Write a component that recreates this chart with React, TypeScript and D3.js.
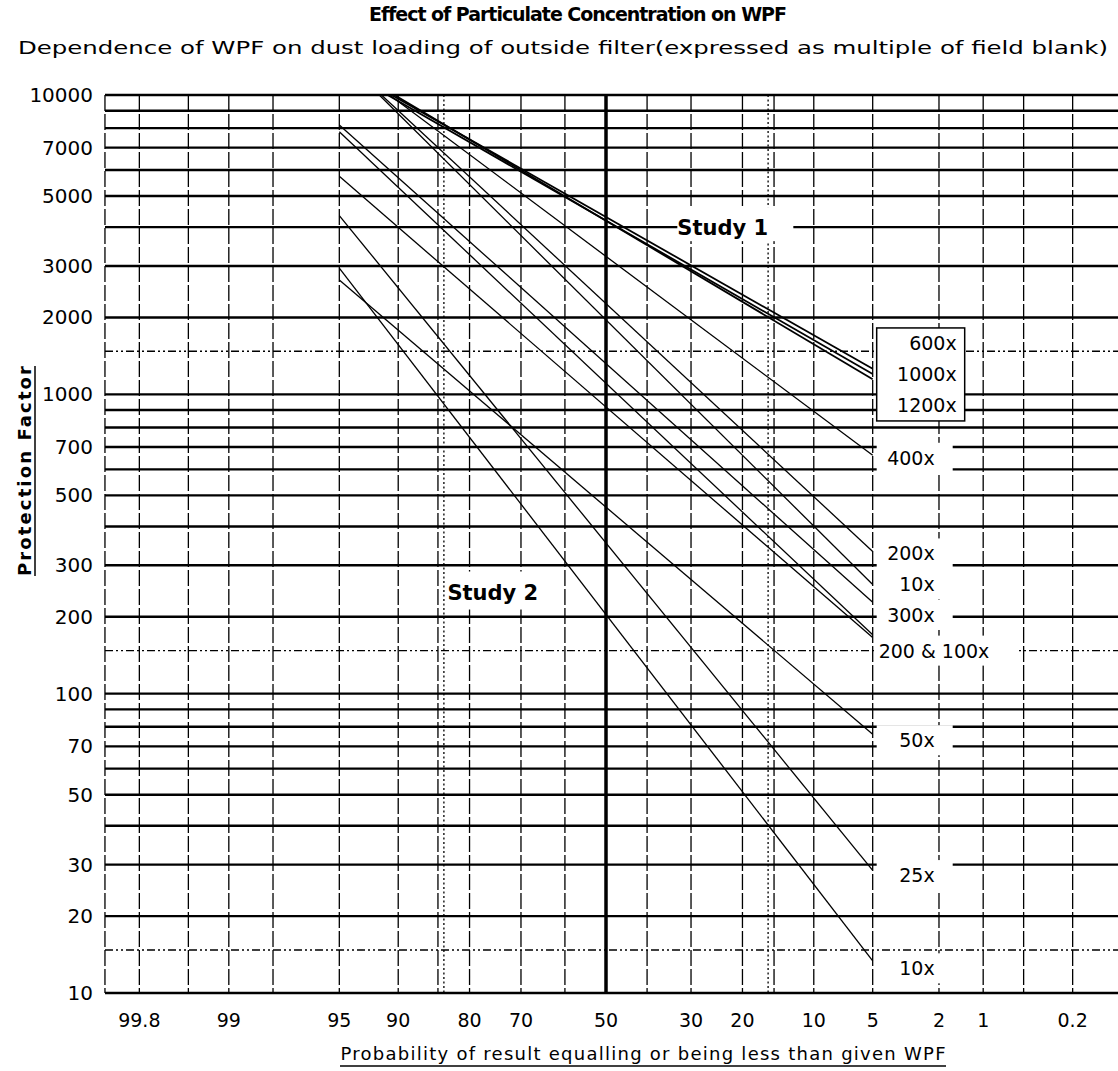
import React from "react";
import * as d3 from "d3";

const W = 1118;
const H = 1071;

const title = "Effect of Particulate Concentration on WPF";
const subtitle =
  "Dependence of WPF on dust loading of outside filter(expressed as multiple of field blank)";
const xTitle = "Probability of result equalling or being less than given WPF";
const yTitle = "Protection Factor";

// protection factor axis
const yLabels = [10, 20, 30, 50, 70, 100, 200, 300, 500, 700, 1000, 2000, 3000, 5000, 7000, 10000];
const yGridSolid = [
  10, 20, 30, 40, 50, 60, 70, 80, 90, 100, 200, 300, 400, 500, 600, 700, 800, 900, 1000, 2000,
  3000, 4000, 5000, 6000, 7000, 8000, 9000, 10000,
];
const yGridDash = [15, 150, 1500];

// probability axis (%)
const xLabels = [99.8, 99, 95, 90, 80, 70, 50, 30, 20, 10, 5, 2, 1, 0.2];
const xGridDash = [99.9, 99.8, 99.5, 99, 98, 95, 90, 85, 80, 70, 60, 40, 30, 20, 15, 10, 5, 2, 1, 0.5, 0.2];
const xGridSigma = [84.13, 15.87];
const xGridMedian = [50];

// each line: [probability %, protection factor] at both ends
const study1 = [
  { name: "600x", pts: [[90.7, 10000], [5, 1280]] },
  { name: "1000x", pts: [[91.1, 10000], [5, 1220]] },
  { name: "1200x", pts: [[90.4, 10000], [5, 1160]] },
];
const study2 = [
  { name: "400x", pts: [[90.9, 10000], [5, 661]] },
  { name: "200x", pts: [[91.7, 10000], [5, 333]] },
  { name: "10x", pts: [[91.9, 10000], [5, 259]] },
  { name: "300x", pts: [[95, 8170], [5, 225]] },
  { name: "200x", pts: [[95, 7800], [5, 172]] },
  { name: "100x", pts: [[95, 5740], [5, 168]] },
  { name: "50x", pts: [[95, 2695], [5, 76]] },
  { name: "25x", pts: [[95, 4350], [5, 28.7]] },
  { name: "10x", pts: [[95, 2950], [5, 13.6]] },
];

const boxLabels = ["600x", "1000x", "1200x"];
const endLabels = [
  { text: "400x", pf: 650 },
  { text: "200x", pf: 328 },
  { text: "10x", pf: 259 },
  { text: "300x", pf: 203 },
  { text: "200 & 100x", pf: 150 },
  { text: "50x", pf: 73 },
  { text: "25x", pf: 27.7 },
  { text: "10x", pf: 12.7 },
];

// inverse normal cdf (Acklam)
function probit(p: number) {
  const a = [-39.69683028665376, 220.9460984245205, -275.9285104469687, 138.357751867269, -30.66479806614716, 2.506628277459239];
  const b = [-54.47609879822406, 161.5858368580409, -155.6989798598866, 66.80131188771972, -13.28068155288572];
  const c = [-0.007784894002430293, -0.3223964580411365, -2.400758277161838, -2.549732539343734, 4.374664141464968, 2.938163982698783];
  const d = [0.007784695709041462, 0.3224671290700398, 2.445134137142996, 3.754408661907416];
  const pl = 0.02425;
  if (p < pl) {
    const q = Math.sqrt(-2 * Math.log(p));
    return (((((c[0] * q + c[1]) * q + c[2]) * q + c[3]) * q + c[4]) * q + c[5]) /
      ((((d[0] * q + d[1]) * q + d[2]) * q + d[3]) * q + 1);
  }
  if (p > 1 - pl) {
    const q = Math.sqrt(-2 * Math.log(1 - p));
    return -(((((c[0] * q + c[1]) * q + c[2]) * q + c[3]) * q + c[4]) * q + c[5]) /
      ((((d[0] * q + d[1]) * q + d[2]) * q + d[3]) * q + 1);
  }
  const q = p - 0.5;
  const r = q * q;
  return (((((a[0] * r + a[1]) * r + a[2]) * r + a[3]) * r + a[4]) * r + a[5]) * q /
    (((((b[0] * r + b[1]) * r + b[2]) * r + b[3]) * r + b[4]) * r + 1);
}

// the printed log paper squeezes the top of each decade a little:
// position inside a decade follows log(r + c) rather than log(r)
const C = 0.06;
function paper(v: number) {
  const e = Math.ceil(Math.log10(v) - 1e-9);
  const r = v / Math.pow(10, e);
  return e - Math.log((1 + C) / (r + C)) / Math.log((1 + C) / (0.1 + C));
}

const FONT = "'DejaVu Sans', sans-serif";

export default function App() {
  const top = 95;
  const bottom = 993;
  const left = 105;

  const xz = d3.scaleLinear().domain([3.09, -3.09]).range([left, 1107]);
  const x = (p: number) => xz(probit(p / 100));
  const yt = d3.scaleLinear().domain([paper(10), paper(10000)]).range([bottom, top]);
  const y = (v: number) => yt(paper(v));

  const line = d3
    .line<number[]>()
    .x((d) => x(d[0]))
    .y((d) => y(d[1]));

  const x5 = x(5);
  const s1End = y(study1[1].pts[1][1]);

  return (
    <svg
      width={W}
      height={H}
      style={{ position: "absolute", left: 0, top: 0, background: "#fff" }}
      fontFamily={FONT}
    >
      <rect width={W} height={H} fill="#fff" />

      {/* titles */}
      <text x={578} y={21} textAnchor="middle" fontSize={19} fontWeight="bold" textLength={418}>
        {title}
      </text>
      <text x={18} y={54} fontSize={18} textLength={1090} lengthAdjust="spacingAndGlyphs">
        {subtitle}
      </text>

      {/* horizontal grid */}
      <g stroke="#000">
        {yGridSolid.map((v) => (
          <line key={"hs" + v} x1={left} x2={W} y1={y(v)} y2={y(v)} strokeWidth={2.4} />
        ))}
        {yGridDash.map((v) => (
          <line
            key={"hd" + v}
            x1={left}
            x2={W}
            y1={y(v)}
            y2={y(v)}
            strokeWidth={1.4}
            strokeDasharray="8 3 2 3 2 3"
          />
        ))}
      </g>

      {/* vertical grid */}
      <g stroke="#000">
        {xGridDash.map((p) => (
          <line key={"vd" + p} x1={x(p)} x2={x(p)} y1={top} y2={bottom} strokeWidth={1.3} strokeDasharray="16 3" />
        ))}
        {xGridSigma.map((p) => (
          <line key={"vs" + p} x1={x(p)} x2={x(p)} y1={top} y2={bottom} strokeWidth={1.3} strokeDasharray="2 2.5" />
        ))}
        {xGridMedian.map((p) => (
          <line key={"vm" + p} x1={x(p)} x2={x(p)} y1={top} y2={bottom} strokeWidth={3.5} />
        ))}
      </g>

      {/* label backgrounds that break the grid */}
      <g fill="#fff">
        <rect x={x(33)} y={y(4000) - 20} width={116} height={34} />
        <rect x={x(83.6)} y={y(245) - 20} width={110} height={38} />
        {endLabels.map((l, i) => (
          <rect
            key={"lb" + i}
            x={x5 + 4}
            y={y(l.pf) - 15}
            width={l.text.length > 5 ? 140 : 76}
            height={30}
          />
        ))}
        <rect x={x5 + 4} y={s1End - 46} width={88} height={93} stroke="#000" strokeWidth={1.5} />
      </g>

      {/* fitted lines */}
      <g fill="none" stroke="#000">
        {study1.map((s, i) => (
          <path key={"s1" + i} d={line(s.pts) as string} strokeWidth={1.8} />
        ))}
        {study2.map((s, i) => (
          <path key={"s2" + i} d={line(s.pts) as string} strokeWidth={1.3} />
        ))}
      </g>

      {/* series labels */}
      <g fontSize={19}>
        {boxLabels.map((t, i) => (
          <text key={"bl" + t} x={x5 + 84} y={s1End + (i - 1) * 31 + 7} textAnchor="end">
            {t}
          </text>
        ))}
        {endLabels.map((l, i) => (
          <text
            key={"el" + i}
            x={l.text.length > 5 ? x5 + 6 : x5 + 62}
            y={y(l.pf) + 7}
            textAnchor={l.text.length > 5 ? "start" : "end"}
          >
            {l.text}
          </text>
        ))}
      </g>
      <text x={x(33)} y={y(4000) + 8} fontSize={21} fontWeight="bold">
        Study 1
      </text>
      <text x={x(83.6)} y={y(245) + 8} fontSize={21} fontWeight="bold">
        Study 2
      </text>

      {/* y axis */}
      <g fontSize={20} textAnchor="end">
        {yLabels.map((v) => (
          <text key={"yl" + v} x={93} y={y(v) + 7}>
            {v}
          </text>
        ))}
      </g>
      <g transform="translate(31,471) rotate(-90)">
        <text x={0} y={0} textAnchor="middle" fontSize={18} fontWeight="bold" textLength={210}>
          {yTitle}
        </text>
        <line x1={-105} x2={105} y1={4} y2={4} stroke="#000" strokeWidth={1.5} />
      </g>

      {/* x axis */}
      <g fontSize={19} textAnchor="middle">
        {xLabels.map((p) => (
          <text key={"xl" + p} x={x(p)} y={1027}>
            {p}
          </text>
        ))}
      </g>
      <text x={643} y={1060} textAnchor="middle" fontSize={18} textLength={605}>
        {xTitle}
      </text>
      <line x1={340} x2={946} y1={1066} y2={1066} stroke="#000" strokeWidth={1.5} />
    </svg>
  );
}
